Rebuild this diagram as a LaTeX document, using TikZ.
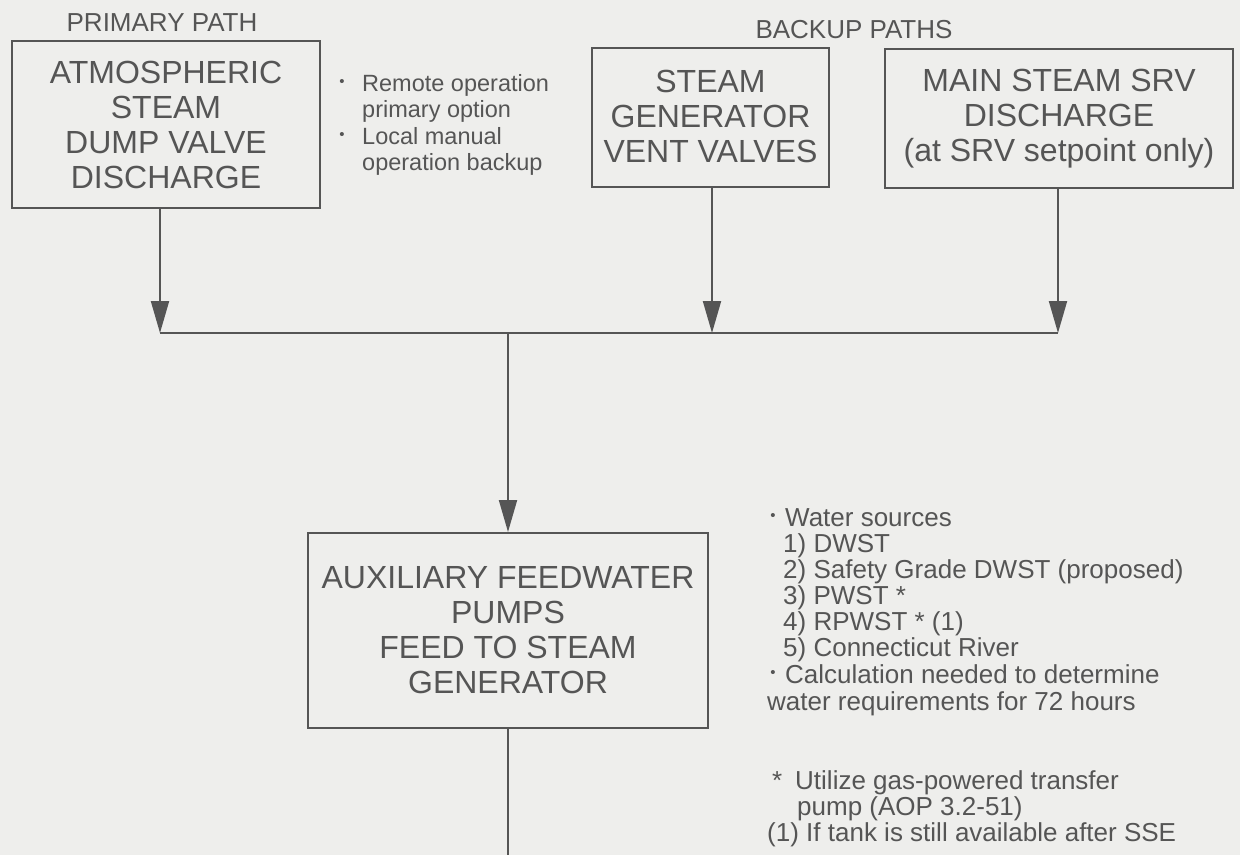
\documentclass[tikz,border=0pt]{standalone}
\usepackage{fontspec}
\setmainfont{Liberation Sans}
\usetikzlibrary{arrows.meta}
\definecolor{ink}{RGB}{85,85,85}
\definecolor{paper}{RGB}{238,238,236}
\begin{document}
\begin{tikzpicture}[x=1pt,y=-1pt,
  box/.style={draw=ink, line width=2pt, text=ink, align=center,
    font=\fontsize{32}{35}\selectfont, inner sep=0pt},
  lbl/.style={text=ink, font=\fontsize{26}{26}\selectfont, inner sep=0pt},
  note/.style={text=ink, font=\fontsize{23.5}{26}\selectfont, anchor=base west, inner sep=0pt},
  wnote/.style={text=ink, font=\fontsize{26}{26}\selectfont, anchor=base west, inner sep=0pt},
  bul/.style={text=ink, font=\fontsize{15}{15}\selectfont, inner sep=0pt},
  conn/.style={draw=ink, line width=2pt},
  arr/.style={conn, -{Triangle[length=32pt,width=18pt]}}]
\fill[paper] (0,0) rectangle (1240,855);
\useasboundingbox (0,0) rectangle (1240,855);

% labels
\node[lbl] (pp) at (162,22.5) {PRIMARY PATH};
\node[lbl] (bp) at (854,30) {BACKUP PATHS};

% boxes
\node[box, minimum width=308pt, minimum height=167pt] (b1) at (166,124.5)
  {ATMOSPHERIC\\STEAM\\DUMP VALVE\\DISCHARGE};
\node[box, minimum width=237pt, minimum height=139pt] (b2) at (710.5,117.5)
  {\raisebox{3pt}{STEAM}\\\raisebox{3pt}{GENERATOR}\\\raisebox{3pt}{VENT VALVES}};
\node[box, minimum width=348pt, minimum height=139pt] (b3) at (1059,118.5)
  {MAIN STEAM SRV\\DISCHARGE\\(at SRV setpoint only)};
\node[box, minimum width=400pt, minimum height=195pt] (b4) at (508,630.5)
  {AUXILIARY FEEDWATER\\PUMPS\\FEED TO STEAM\\GENERATOR};

% connectors
\coordinate (j1) at (160,333);
\coordinate (j2) at (712,333);
\coordinate (j3) at (1058,333);
\coordinate (jm) at (508,333);
\coordinate (bot) at (508,855);
\draw[arr] (b1.south -| j1) -- (j1);
\draw[arr] (b2.south -| j2) -- (j2);
\draw[arr] (b3.south -| j3) -- (j3);
\draw[conn] (j1) -- (j3);
\draw[arr] (jm) -- (b4.north);
\draw[conn] (b4.south) -- (bot);

% notes beside the primary path
\node[bul] (rb1) at (342,83) {\textbullet};
\node[bul] (rb2) at (342,136) {\textbullet};
\foreach \n/\y/\t in {r1/91.5/{Remote operation}, r2/117.5/{primary option},
    r3/144.5/{Local manual}, r4/170.5/{operation backup}}
  \node[note] (\n) at (362,\y) {\t};

% water sources notes
\node[bul] (wb1) at (773,517) {\textbullet};
\node[bul] (wb2) at (773,674) {\textbullet};
\foreach \n/\x/\y/\t in {w1/785/526/{Water sources}, w2/783/552/{1) DWST},
    w3/783/578/{2) Safety Grade DWST (proposed)}, w4/783/604/{3) PWST *},
    w5/783/630/{4) RPWST * (1)}, w6/783/656/{5) Connecticut River},
    w7/785/683/{Calculation needed to determine},
    w8/767/710/{water requirements for 72 hours},
    w9/772/789/{*}, w10/795/789/{Utilize gas-powered transfer},
    w11/797/815/{pump (AOP 3.2-51)},
    w12/767/841/{(1) If tank is still available after SSE}}
  \node[wnote] (\n) at (\x,\y) {\t};
\end{tikzpicture}
\end{document}
